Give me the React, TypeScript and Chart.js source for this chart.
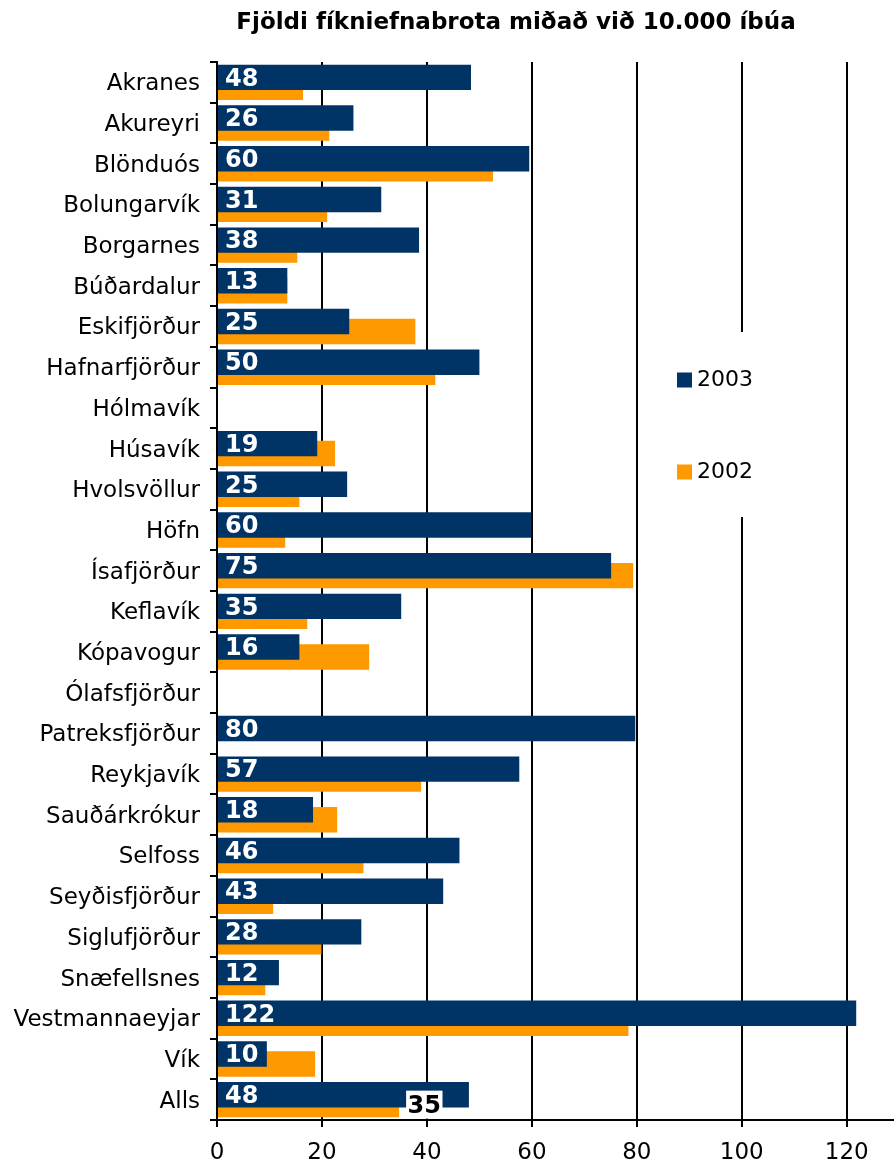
import React, { useEffect, useRef } from 'react';
import { Chart, registerables } from 'chart.js';

Chart.register(...registerables);

const TITLE = 'Fjöldi fíkniefnabrota miðað við 10.000 íbúa';

const categories = [
  'Akranes', 'Akureyri', 'Blönduós', 'Bolungarvík', 'Borgarnes', 'Búðardalur',
  'Eskifjörður', 'Hafnarfjörður', 'Hólmavík', 'Húsavík', 'Hvolsvöllur', 'Höfn',
  'Ísafjörður', 'Keflavík', 'Kópavogur', 'Ólafsfjörður', 'Patreksfjörður',
  'Reykjavík', 'Sauðárkrókur', 'Selfoss', 'Seyðisfjörður', 'Siglufjörður',
  'Snæfellsnes', 'Vestmannaeyjar', 'Vík', 'Alls',
];

const values2003 = [
  48.4, 26.0, 59.5, 31.3, 38.5, 13.4, 25.2, 50.0, null, 19.1, 24.8, 59.9,
  75.1, 35.1, 15.7, null, 79.7, 57.6, 18.3, 46.2, 43.1, 27.5, 11.8, 121.8, 9.5, 48.0,
];

const values2002 = [
  16.4, 21.4, 52.6, 21.0, 15.3, 13.4, 37.8, 41.6, null, 22.5, 15.7, 13.0,
  79.3, 17.2, 29.0, null, null, 38.9, 22.9, 27.9, 10.7, 19.9, 9.2, 78.4, 18.7, 34.7,
];

const labels2003 = [
  48, 26, 60, 31, 38, 13, 25, 50, null, 19, 25, 60,
  75, 35, 16, null, 80, 57, 18, 46, 43, 28, 12, 122, 10, 48,
];

const labels2002 = [
  null, null, null, null, null, null, null, null, null, null, null, null,
  null, null, null, null, null, null, null, null, null, null, null, null, null, 35,
];

const seriesNames = ['2003', '2002'];
const xMin = 0;
const xMax = 129;
const xStep = 20;

const NAVY = '#003366';
const ORANGE = '#FF9900';
const FONT = "'DejaVu Sans', Verdana, sans-serif";

export default function App() {
  const ref = useRef<HTMLCanvasElement>(null);

  useEffect(() => {
    const canvas = ref.current;
    if (!canvas) return;

    const labelPlugin = {
      id: 'barLabels',
      afterDatasetsDraw(chart: any) {
        const ctx = chart.ctx;
        ctx.save();
        ctx.font = `bold 24px ${FONT}`;
        ctx.textBaseline = 'middle';
        ctx.textAlign = 'left';
        const m0 = chart.getDatasetMeta(0);
        m0.data.forEach((el: any, i: number) => {
          const t = labels2003[i];
          if (t == null || values2003[i] == null) return;
          ctx.fillStyle = '#ffffff';
          ctx.fillText(String(t), el.base + 7, el.y + 2);
        });
        const m1 = chart.getDatasetMeta(1);
        m1.data.forEach((el: any, i: number) => {
          const t = labels2002[i];
          if (t == null || values2002[i] == null) return;
          const s = String(t);
          const w = ctx.measureText(s).width;
          const x = el.x + 7;
          ctx.fillStyle = '#ffffff';
          ctx.fillRect(x, el.y - 14, w + 3, 28);
          ctx.fillStyle = '#000000';
          ctx.fillText(s, x + 1.5, el.y + 2);
        });
        ctx.restore();
      },
    };

    const decorPlugin = {
      id: 'decor',
      afterDraw(chart: any) {
        const ctx = chart.ctx;
        ctx.save();
        // title
        ctx.font = `bold 23px ${FONT}`;
        ctx.fillStyle = '#000000';
        ctx.textAlign = 'center';
        ctx.textBaseline = 'alphabetic';
        ctx.fillText(TITLE, 516, 28.5);
        // legend
        ctx.fillStyle = '#ffffff';
        ctx.fillRect(665, 332, 150, 185);
        const ys = [380, 472];
        chart.data.datasets.forEach((ds: any, i: number) => {
          ctx.fillStyle = ds.backgroundColor;
          ctx.fillRect(677, ys[i] - 7.5, 15, 15);
          ctx.fillStyle = '#000000';
          ctx.font = `22px ${FONT}`;
          ctx.textAlign = 'left';
          ctx.textBaseline = 'middle';
          ctx.fillText(ds.label, 697, ys[i]);
        });
        ctx.restore();
      },
    };

    Chart.defaults.font.family = FONT;
    Chart.defaults.color = '#000000';

    const chart = new Chart(canvas, {
      type: 'bar',
      data: {
        labels: categories,
        datasets: [
          {
            label: seriesNames[0],
            data: values2003,
            backgroundColor: NAVY,
            borderWidth: 0,
            categoryPercentage: 0.49,
            barPercentage: 2.55,
          },
          {
            label: seriesNames[1],
            data: values2002,
            backgroundColor: ORANGE,
            borderWidth: 0,
            categoryPercentage: 0.49,
            barPercentage: 2.55,
          },
        ],
      },
      options: {
        indexAxis: 'y',
        responsive: false,
        animation: false,
        devicePixelRatio: 1,
        layout: { padding: { top: 62, left: 0, right: 0, bottom: 0 } },
        plugins: {
          legend: { display: false },
          title: { display: false },
          tooltip: { enabled: false },
        },
        scales: {
          x: {
            type: 'linear',
            min: xMin,
            max: xMax,
            afterFit(scale: any) {
              scale.height = 45;
            },
            ticks: {
              stepSize: xStep,
              includeBounds: false,
              font: { size: 23 },
              color: '#000000',
              padding: 12,
            },
            grid: {
              color: '#000000',
              lineWidth: 2,
              tickLength: 7,
              drawOnChartArea: true,
            },
            border: { color: '#000000', width: 2 },
          },
          y: {
            type: 'category',
            offset: true,
            afterFit(scale: any) {
              scale.width = 217;
            },
            ticks: {
              autoSkip: false,
              font: { size: 23 },
              color: '#000000',
              padding: 10,
              labelOffset: 2,
            },
            grid: {
              offset: true,
              drawOnChartArea: false,
              color: '#000000',
              lineWidth: 2,
              tickLength: 7,
            },
            border: { color: '#000000', width: 2 },
          },
        },
      },
      plugins: [labelPlugin, decorPlugin],
    });

    return () => chart.destroy();
  }, []);

  return (
    <div style={{ position: 'absolute', left: 0, top: 0, width: 894, height: 1165, background: '#ffffff' }}>
      <canvas ref={ref} width={894} height={1165} style={{ display: 'block' }} />
    </div>
  );
}
